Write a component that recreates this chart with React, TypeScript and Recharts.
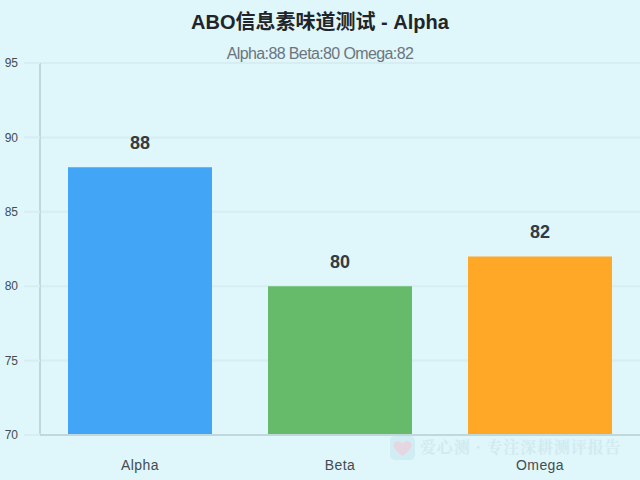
import { BarChart, Bar, XAxis, YAxis, CartesianGrid, Cell, LabelList } from 'recharts';

const categories = ['Alpha', 'Beta', 'Omega'];
const scores = [88, 80, 82];
const barColors = ['#42a5f5', '#66bb6a', '#ffa726'];
const yTicks = [70, 75, 80, 85, 90, 95];

const chartData = categories.map((name, i) => ({ name, score: scores[i] }));
const sansFont = '"Liberation Sans", "Noto Sans CJK SC", sans-serif';

export default function App() {
  return (
    <div
      style={{
        position: 'absolute',
        left: 0,
        top: 0,
        width: 640,
        height: 480,
        overflow: 'hidden',
        background: '#dff6fa',
        fontFamily: sansFont,
      }}
    >
      <div
        style={{
          position: 'absolute',
          top: 9,
          width: 640,
          textAlign: 'center',
          fontSize: 20,
          lineHeight: '26px',
          fontWeight: 700,
          color: '#212529',
        }}
      >
        ABO信息素味道测试 - Alpha
      </div>
      <div
        style={{
          position: 'absolute',
          top: 44,
          width: 640,
          textAlign: 'center',
          fontSize: 16,
          lineHeight: '20px',
          letterSpacing: '-0.62px',
          color: '#6c757d',
        }}
      >
        Alpha:88 Beta:80 Omega:82
      </div>
      <BarChart
        width={640}
        height={480}
        data={chartData}
        margin={{ top: 63, right: 0, bottom: 0, left: 0 }}
        barCategoryGap="14%"
      >
        <CartesianGrid vertical={false} stroke="#d6eef2" strokeWidth={2} />
        <XAxis
          dataKey="name"
          height={45}
          tickLine={false}
          axisLine={{ stroke: '#c0d8dc', strokeWidth: 2 }}
          tick={{ fill: '#444c52', fontSize: 14, fontFamily: sansFont, letterSpacing: 0.4 }}
          tickMargin={19}
        />
        <YAxis
          width={40}
          domain={[70, 95]}
          ticks={yTicks}
          tickSize={16}
          tickLine={{ stroke: '#d6eef2', strokeWidth: 2 }}
          axisLine={{ stroke: '#c0d8dc', strokeWidth: 2 }}
          tick={{ fill: '#444c52', fontSize: 12, fontFamily: sansFont }}
          tickMargin={6}
        />
        <Bar dataKey="score" isAnimationActive={false}>
          {chartData.map((d, i) => (
            <Cell key={d.name} fill={barColors[i]} />
          ))}
          <LabelList
            dataKey="score"
            position="top"
            offset={18}
            style={{ fill: '#343a40', fontSize: 18, fontWeight: 700, fontFamily: sansFont }}
          />
        </Bar>
      </BarChart>
      {/* faint watermark over the bottom right corner */}
      <div
        style={{
          position: 'absolute',
          left: 390,
          top: 436,
          display: 'flex',
          alignItems: 'flex-start',
          gap: 5,
          opacity: 0.5,
          pointerEvents: 'none',
        }}
      >
        <svg width={25} height={24} viewBox="0 0 25 24">
          <rect width={25} height={24} rx={5} fill="#c4e6f0" />
          <path
            d="M12.5 20 C6 15 3 12 3.5 8 C4 4.5 9.5 3.5 12.5 7.5 C15.5 3.5 21 4.5 21.5 8 C22 12 19 15 12.5 20 Z"
            fill="#eeb8cc"
          />
        </svg>
        <span
          style={{
            marginTop: 2,
            fontSize: 16,
            lineHeight: '18px',
            fontWeight: 700,
            color: '#c4dfe6',
            fontFamily: '"Noto Serif CJK SC", "Noto Sans CJK SC", serif',
            whiteSpace: 'nowrap',
            letterSpacing: 0.85,
          }}
        >
          爱心测 · 专注深耕测评报告
        </span>
      </div>
    </div>
  );
}
